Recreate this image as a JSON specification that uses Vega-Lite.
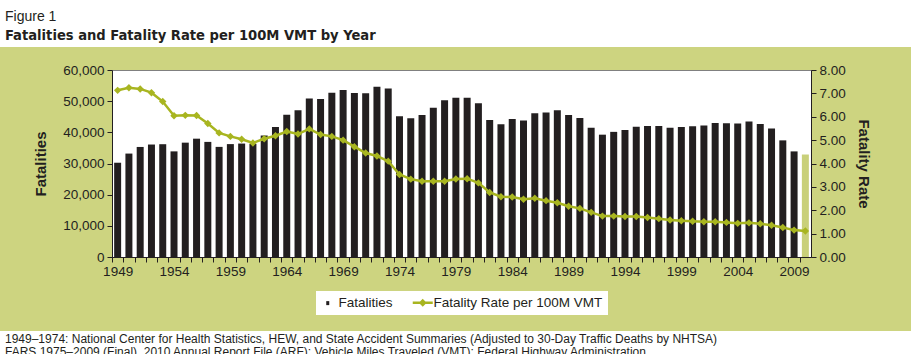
{
  "$schema": "https://vega.github.io/schema/vega-lite/v6.json",
  "padding": 0,
  "background": "#cdd480",
  "spacing": 15,
  "datasets": {
    "d": [
      {"year": 1949, "fatalities": 30246, "rate": 7.13},
      {"year": 1950, "fatalities": 33186, "rate": 7.24},
      {"year": 1951, "fatalities": 35309, "rate": 7.19},
      {"year": 1952, "fatalities": 36088, "rate": 7.03},
      {"year": 1953, "fatalities": 36190, "rate": 6.65},
      {"year": 1954, "fatalities": 33890, "rate": 6.04},
      {"year": 1955, "fatalities": 36688, "rate": 6.06},
      {"year": 1956, "fatalities": 37965, "rate": 6.05},
      {"year": 1957, "fatalities": 36932, "rate": 5.71},
      {"year": 1958, "fatalities": 35331, "rate": 5.31},
      {"year": 1959, "fatalities": 36223, "rate": 5.16},
      {"year": 1960, "fatalities": 36399, "rate": 5.04},
      {"year": 1961, "fatalities": 36285, "rate": 4.88},
      {"year": 1962, "fatalities": 38980, "rate": 5.06},
      {"year": 1963, "fatalities": 41723, "rate": 5.19},
      {"year": 1964, "fatalities": 45645, "rate": 5.37},
      {"year": 1965, "fatalities": 47089, "rate": 5.26},
      {"year": 1966, "fatalities": 50894, "rate": 5.48},
      {"year": 1967, "fatalities": 50724, "rate": 5.24},
      {"year": 1968, "fatalities": 52725, "rate": 5.16},
      {"year": 1969, "fatalities": 53543, "rate": 5.0},
      {"year": 1970, "fatalities": 52627, "rate": 4.72},
      {"year": 1971, "fatalities": 52542, "rate": 4.45},
      {"year": 1972, "fatalities": 54589, "rate": 4.32},
      {"year": 1973, "fatalities": 54052, "rate": 4.1},
      {"year": 1974, "fatalities": 45196, "rate": 3.53},
      {"year": 1975, "fatalities": 44525, "rate": 3.33},
      {"year": 1976, "fatalities": 45523, "rate": 3.24},
      {"year": 1977, "fatalities": 47878, "rate": 3.24},
      {"year": 1978, "fatalities": 50331, "rate": 3.24},
      {"year": 1979, "fatalities": 51093, "rate": 3.34},
      {"year": 1980, "fatalities": 51091, "rate": 3.35},
      {"year": 1981, "fatalities": 49301, "rate": 3.17},
      {"year": 1982, "fatalities": 43945, "rate": 2.76},
      {"year": 1983, "fatalities": 42589, "rate": 2.58},
      {"year": 1984, "fatalities": 44257, "rate": 2.57},
      {"year": 1985, "fatalities": 43825, "rate": 2.47},
      {"year": 1986, "fatalities": 46087, "rate": 2.51},
      {"year": 1987, "fatalities": 46390, "rate": 2.41},
      {"year": 1988, "fatalities": 47087, "rate": 2.32},
      {"year": 1989, "fatalities": 45582, "rate": 2.17},
      {"year": 1990, "fatalities": 44599, "rate": 2.08},
      {"year": 1991, "fatalities": 41508, "rate": 1.91},
      {"year": 1992, "fatalities": 39250, "rate": 1.75},
      {"year": 1993, "fatalities": 40150, "rate": 1.75},
      {"year": 1994, "fatalities": 40716, "rate": 1.73},
      {"year": 1995, "fatalities": 41817, "rate": 1.73},
      {"year": 1996, "fatalities": 42065, "rate": 1.69},
      {"year": 1997, "fatalities": 42013, "rate": 1.64},
      {"year": 1998, "fatalities": 41501, "rate": 1.58},
      {"year": 1999, "fatalities": 41717, "rate": 1.55},
      {"year": 2000, "fatalities": 41945, "rate": 1.53},
      {"year": 2001, "fatalities": 42196, "rate": 1.51},
      {"year": 2002, "fatalities": 43005, "rate": 1.51},
      {"year": 2003, "fatalities": 42884, "rate": 1.48},
      {"year": 2004, "fatalities": 42836, "rate": 1.44},
      {"year": 2005, "fatalities": 43510, "rate": 1.46},
      {"year": 2006, "fatalities": 42708, "rate": 1.42},
      {"year": 2007, "fatalities": 41259, "rate": 1.36},
      {"year": 2008, "fatalities": 37423, "rate": 1.26},
      {"year": 2009, "fatalities": 33883, "rate": 1.15},
      {"year": 2010, "fatalities": 32885, "rate": 1.11}
    ]
  },
  "config": {
    "font": "Liberation Sans, sans-serif",
    "view": {"stroke": null},
    "axis": {
      "labelFont": "Liberation Sans, sans-serif",
      "labelFontSize": 13.5,
      "labelColor": "#231f20",
      "titleFont": "Liberation Sans, sans-serif",
      "titleFontSize": 15,
      "titleFontWeight": "bold",
      "titleColor": "#231f20",
      "domainColor": "#231f20",
      "tickColor": "#231f20",
      "tickSize": 5,
      "grid": false
    }
  },
  "resolve": {"scale": {"color": "independent"}, "legend": {"color": "independent"}},
  "vconcat": [
    {
      "width": 911,
      "height": 47,
      "view": {"fill": "white", "stroke": null},
      "data": {"values": []},
      "mark": "point",
      "title": {
        "text": "Figure 1",
        "subtitle": "Fatalities and Fatality Rate per 100M VMT by Year",
        "anchor": "start",
        "orient": "top",
        "offset": -43,
        "dx": 5,
        "font": "Liberation Sans, sans-serif",
        "fontSize": 14,
        "fontWeight": "normal",
        "color": "#231f20",
        "subtitleFont": "DejaVu Sans Condensed, sans-serif",
        "subtitleFontSize": 14.6,
        "subtitleFontWeight": "bold",
        "subtitleColor": "#231f20",
        "subtitlePadding": 4
      }
    },
    {
      "spacing": 13,
      "resolve": {"scale": {"color": "independent"}, "legend": {"color": "independent"}},
      "hconcat": [
        {
          "width": 20,
          "height": 1,
          "view": {"stroke": null},
          "data": {"values": []},
          "mark": "point"
        },
        {
          "width": 699,
          "height": 187,
          "view": {"fill": "white", "stroke": "#808080"},
          "data": {"name": "d"},
          "encoding": {
            "x": {
              "field": "year",
              "type": "ordinal",
              "scale": {"paddingInner": 0.38, "paddingOuter": 0.19},
              "axis": {
                "title": null,
                "labelAngle": 0,
                "labelOverlap": false,
                "labelExpr": "(datum.value - 1949) % 5 == 0 ? datum.label : ''",
                "tickOffset": -5.64,
                "labelOffset": 5.64,
                "labelPadding": 2
              }
            }
          },
          "layer": [
            {
              "mark": {"type": "bar"},
              "encoding": {
                "y": {
                  "field": "fatalities",
                  "type": "quantitative",
                  "scale": {"domain": [0, 60000]},
                  "axis": {
                    "title": "Fatalities",
                    "values": [0, 10000, 20000, 30000, 40000, 50000, 60000],
                    "format": ",d",
                    "titlePadding": 14,
                    "labelPadding": 3
                  }
                },
                "color": {
                  "datum": "Fatalities",
                  "type": "nominal",
                  "condition": {"test": "datum.year === 2010", "value": "#c9d07a"},
                  "scale": {
                    "domain": ["Fatalities", "Fatality Rate per 100M VMT"],
                    "range": ["#231f20", "#a8b520"]
                  },
                  "legend": {
                    "orient": "none",
                    "legendX": 204,
                    "legendY": 221,
                    "direction": "horizontal",
                    "title": null,
                    "fillColor": "white",
                    "padding": 5,
                    "labelFont": "Liberation Sans, sans-serif",
                    "labelFontSize": 13.5,
                    "labelColor": "#231f20",
                    "labelLimit": 400,
                    "symbolSize": 400,
                    "labelOffset": 4,
                    "columnPadding": 14,
                    "encode": {
                      "symbols": {
                        "update": {
                          "shape": {"signal": "datum.value === 'Fatalities' ? 'M-0.15,-0.2L0.15,-0.2L0.15,0.2L-0.15,0.2Z' : 'M-1,0L1,0M0,-0.22L0.22,0L0,0.22L-0.22,0Z'"},
                          "fill": {"signal": "datum.value === 'Fatalities' ? '#231f20' : '#a8b520'"},
                          "stroke": {"signal": "datum.value === 'Fatalities' ? '#231f20' : '#a8b520'"},
                          "strokeWidth": {"signal": "datum.value === 'Fatalities' ? 0 : 2.5"},
                          "opacity": {"value": 1}
                        }
                      }
                    }
                  }
                }
              }
            },
            {
              "mark": {"type": "line", "strokeWidth": 2.5, "point": {"shape": "diamond", "size": 55, "filled": true}},
              "encoding": {
                "y": {
                  "field": "rate",
                  "type": "quantitative",
                  "scale": {"domain": [0, 8]},
                  "axis": {
                    "orient": "right",
                    "title": "Fatality Rate",
                    "values": [0, 1, 2, 3, 4, 5, 6, 7, 8],
                    "format": ".2f",
                    "titlePadding": 10,
                    "labelPadding": 3
                  }
                },
                "color": {"datum": "Fatality Rate per 100M VMT", "type": "nominal"}
              }
            }
          ],
          "resolve": {"scale": {"y": "independent"}}
        }
      ]
    },
    {
      "width": 911,
      "height": 30,
      "view": {"fill": "white", "stroke": null},
      "data": {"values": []},
      "mark": "point",
      "title": {
        "text": [
          "1949–1974: National Center for Health Statistics, HEW, and State Accident Summaries (Adjusted to 30-Day Traffic Deaths by NHTSA)",
          "FARS 1975–2009 (Final), 2010 Annual Report File (ARF); Vehicle Miles Traveled (VMT): Federal Highway Administration"
        ],
        "anchor": "start",
        "orient": "top",
        "offset": -28,
        "dx": 5,
        "font": "Liberation Sans, sans-serif",
        "fontSize": 12,
        "fontWeight": "normal",
        "lineHeight": 13,
        "color": "#231f20"
      }
    }
  ]
}
